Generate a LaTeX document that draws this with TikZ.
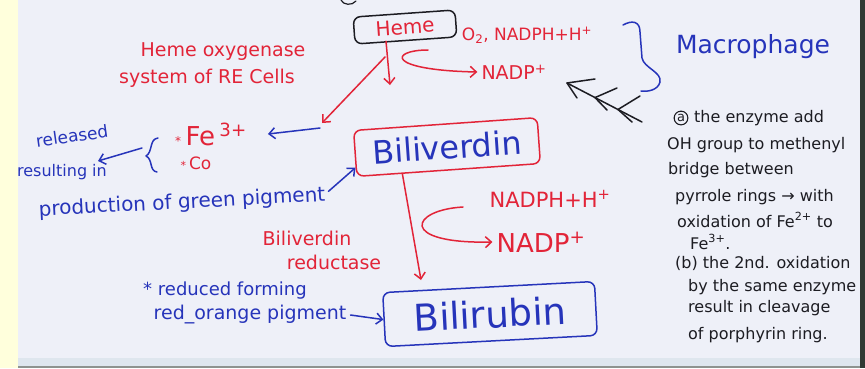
\documentclass[tikz,border=0pt]{standalone}
\usepackage{fontspec}
\setmainfont{DejaVu Sans}
\usetikzlibrary{arrows.meta,calc}

\definecolor{inkred}{RGB}{226,36,56}
\definecolor{inkblue}{RGB}{38,52,186}
\definecolor{inkblack}{RGB}{28,28,34}
\definecolor{paper}{RGB}{238,240,248}
\definecolor{margin}{RGB}{255,255,220}
\definecolor{edgeband}{RGB}{222,230,238}
\definecolor{edgedark}{RGB}{48,58,52}
\newcommand\inksize[1]{\fontsize{#1}{#1}\selectfont}

\begin{document}
\begin{tikzpicture}[x=1pt,y=-1pt,
  pen/.style={line width=1.5pt, line cap=round, line join=round},
  redpen/.style={pen, draw=inkred},
  bluepen/.style={pen, draw=inkblue},
  blackpen/.style={pen, draw=inkblack},
  tip/.style={-{Straight Barb[length=6pt,width=11pt]}},
  redtxt/.style={text=inkred, inner sep=1pt},
  bluetxt/.style={text=inkblue, inner sep=1pt},
  notetxt/.style={text=inkblack, inner sep=0pt, anchor=west, font=\inksize{16}},
  notemark/.style={circle, draw=inkblack, line width=1.1pt, text=inkblack,
                   inner sep=1pt, font=\inksize{13}},
  compound/.style={pen, rounded corners=7pt, inner sep=0pt},
]

% sheet of paper with its margins
\fill[margin] (0,0) rectangle (865,368);
\fill[paper] (18,0) rectangle (860,358);
\fill[edgeband] (18,358) rectangle (860,366);
\fill[edgedark!55] (18,366) rectangle (860,368);
\fill[edgedark] (860,0) rectangle (865,368);
\useasboundingbox (0,0) rectangle (865,368);

% ---------- heme and its oxygenase step ----------
\draw[blackpen, line width=1.2pt] (341,0) .. controls (343,5) and (352,6) .. (356,1);
\node[compound, draw=inkblack, text=inkred, font=\inksize{20},
      minimum width=102pt, minimum height=27pt, rotate=4] (heme) at (405,27) {Heme};

\node[redtxt, font=\inksize{17}] (cofA) at (527,35) {O\textsubscript{2}, NADPH+H\textsuperscript{+}};
\node[redtxt, font=\inksize{19}] (nadpA) at (514,72) {NADP\textsuperscript{+}};

\coordinate (hemeDrop) at (390,85);
\coordinate (hemeSplit) at (385,57);
\coordinate (oxyEnd) at (322,123);
\coordinate (o2src) at (428,50);

\draw[redpen,tip] ([xshift=-20pt]heme.south) -- (hemeDrop);
\draw[redpen,tip] (o2src) .. controls (390,50) and (385,70) .. ([xshift=-3pt]nadpA.west);
\draw[redpen,tip] (hemeSplit) -- (oxyEnd);

\node[redtxt, font=\inksize{19}] (hoA) at (223,52) {Heme oxygenase};
\node[redtxt, font=\inksize{19}] (hoB) at (207,78) {system of RE Cells};

% ---------- released iron and CO ----------
\node[redtxt, font=\inksize{26}] (iron) at (211,134) {{\inksize{12}*}\,Fe\,\textsuperscript{3+}};
\node[redtxt, font=\inksize{17}] (carbonmono) at (196,163) {{\inksize{11}*}\,Co};

\coordinate (feSrc) at (320,128);
\draw[bluepen,tip] (feSrc) -- ([xshift=20pt]iron.east);

\draw[bluepen] (158,138) .. controls (149,139) and (153,152) .. (146,156)
               .. controls (153,159) and (149,171) .. (157,172);

\node[bluetxt, font=\inksize{17}, rotate=8] (released) at (72,136) {released};
\coordinate (relSrc) at (142,148);
\coordinate (relDst) at (98,161);
\draw[bluepen,tip] (relSrc) -- (relDst);

\node[bluetxt, font=\inksize{16}] (resulting) at (62,172) {resulting in};
\node[bluetxt, font=\inksize{20}, rotate=3] (production) at (182,203) {production of green pigment};

% ---------- biliverdin ----------
\node[compound, draw=inkred, text=inkblue, font=\inksize{32},
      minimum width=184pt, minimum height=46pt, rotate=4] (biliverdin) at (447,147) {Biliverdin};

\draw[bluepen,tip] ([xshift=2pt,yshift=4pt]production.east) -- ($(biliverdin.west)!0.6!(biliverdin.south west)$);

\node[redtxt, font=\inksize{21}] (nadphB) at (550,199) {NADPH+H\textsuperscript{+}};
\node[redtxt, font=\inksize{26}] (nadpB) at (541,242) {NADP\textsuperscript{+}};
\node[redtxt, font=\inksize{19}] (bvrA) at (307,238) {Biliverdin};
\node[redtxt, font=\inksize{19}] (bvrB) at (334,262) {reductase};

% ---------- bilirubin ----------
\node[compound, draw=inkblue, text=inkblue, font=\inksize{37},
      minimum width=212pt, minimum height=54pt, rotate=3] (bilirubin) at (490,314) {Bilirubin};

\coordinate (bvArrowEnd) at (421,280);
\coordinate (nadphSrc) at (463,207);
\draw[redpen,tip] ($(biliverdin.south west)!0.25!(biliverdin.south east)$) -- (bvArrowEnd);
\draw[redpen,tip] (nadphSrc) .. controls (410,210) and (398,244) .. ([xshift=-3pt]nadpB.west);

\node[bluetxt, font=\inksize{18}] (reduced) at (225,291) {* reduced forming};
\node[bluetxt, font=\inksize{19}] (orange) at (250,315) {red\_orange pigment};
\draw[bluepen,tip] ([xshift=3pt]orange.east) -- (bilirubin.west);

% ---------- macrophage ----------
\node[bluetxt, font=\inksize{25}] (macro) at (753,47) {Macrophage};
\draw[bluepen] (623,25) .. controls (632,20) and (640,21) .. (640,32) -- (642,58)
               .. controls (644,68) and (662,72) .. (660,82)
               .. controls (658,90) and (648,92) .. (641,91);

% fletched arrow pointing back at the scheme
\coordinate (fletchTail) at (642,122);
\coordinate (fletchHead) at (567,83);
\draw[blackpen] (fletchTail) -- (fletchHead);
\draw[blackpen] (595,79) -- (fletchHead) -- (577,98);
\draw[blackpen] (617,88) -- (595,97.6) -- (607,110);
\draw[blackpen] (640,96) -- (618,109.5) -- (632,122);

% ---------- notes ----------
\node[notemark] (markA) at (681,118) {a};
\node[notetxt] (noteA) at (694,118) {the enzyme add};
\node[notetxt] (noteB) at (667,145) {OH group to methenyl};
\node[notetxt] (noteC) at (668,170) {bridge between};
\node[notetxt] (noteD) at (675,197) {pyrrole rings → with};
\node[notetxt] (noteE) at (677,220) {oxidation of Fe\textsuperscript{2+} to};
\node[notetxt] (noteF) at (690,242) {Fe\textsuperscript{3+}.};
\node[notetxt] (noteG) at (675,263) {(b) the 2nd. oxidation};
\node[notetxt] (noteH) at (688,287) {by the same enzyme};
\node[notetxt] (noteI) at (688,308) {result in cleavage};
\node[notetxt] (noteJ) at (688,335) {of porphyrin ring.};

\end{tikzpicture}
\end{document}
